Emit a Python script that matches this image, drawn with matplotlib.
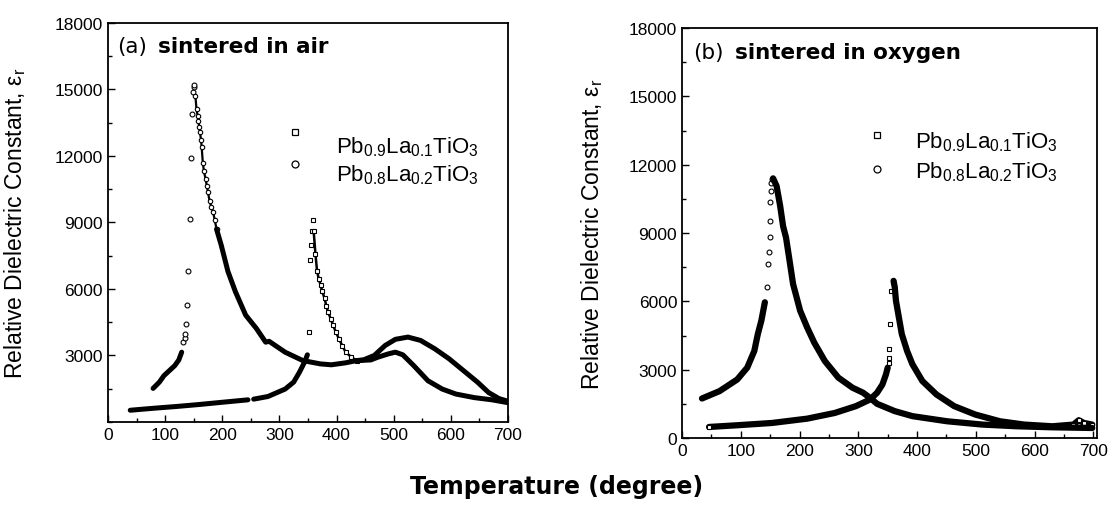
import matplotlib
matplotlib.use("Agg")
import matplotlib.pyplot as plt
from matplotlib.ticker import MultipleLocator

plt.rcParams['font.family'] = ['Liberation Sans', 'DejaVu Sans']
plt.rcParams['mathtext.fontset'] = 'custom'
plt.rcParams['mathtext.rm'] = 'Liberation Sans'

# ---------------- (a) sintered in air ----------------
# Pb0.9La0.1TiO3 (squares)
air_sq_low_T = [39, 80, 120, 160, 200, 245]
air_sq_low_e = [530, 620, 700, 790, 890, 1000]
air_sq_rise_T = [255, 280, 310, 325, 335, 344, 349]
air_sq_rise_e = [1030, 1150, 1485, 1800, 2240, 2700, 3030]
air_sq_peak_T = [351, 353, 355, 357, 358]
air_sq_peak_e = [4060, 7300, 8000, 8600, 9100]
air_sq_fall_T = [360, 363, 366, 369, 372, 375, 379, 382, 385, 390, 394, 399, 404, 410,
                 416, 425, 435, 447, 466, 485, 503, 525,
                 547, 572, 597, 622, 647, 666, 684, 698]
air_sq_fall_e = [8600, 7600, 6790, 6450, 6180, 5900, 5575, 5250, 4970, 4650, 4360, 4050,
                 3760, 3450, 3150, 2950, 2770, 2800, 3000, 3450,
                 3730, 3830, 3680, 3300, 2850, 2320, 1790, 1330, 1060, 950]

# Pb0.8La0.2TiO3 (circles)
air_ci_rise_T = [79, 90, 98, 108, 117, 124, 129]
air_ci_rise_e = [1515, 1800, 2090, 2330, 2545, 2800, 3150]
air_ci_peak_T = [132, 134, 135, 137, 138.5, 140, 143.5, 145, 147, 149, 150.5, 151]
air_ci_peak_e = [3600, 3800, 3985, 4440, 5300, 6830, 9150, 11900, 13900, 14900, 15100, 15200]
air_ci_fall1_T = [153, 155, 157, 158, 160, 161, 163, 164, 166, 168, 171, 173, 175, 178,
                  181, 184, 187, 190]
air_ci_fall1_e = [14700, 14100, 13800, 13600, 13300, 13080, 12700, 12400, 11700, 11300,
                  10950, 10650, 10370, 9950, 9700, 9470, 9100, 8700]
air_ci_fall2_T = [190, 198, 210, 223, 241, 260, 276, 282, 310, 341, 372, 391, 416, 435,
                  460, 472, 491, 503, 516, 535, 560, 585, 609, 641, 672, 698]
air_ci_fall2_e = [8700, 8000, 6790, 5880, 4820, 4210, 3600, 3640, 3150, 2770, 2620, 2580,
                  2670, 2770, 2800, 2920, 3075, 3150, 3030, 2545, 1860, 1485, 1260, 1100,
                  1000, 880]

# ---------------- (b) sintered in oxygen ----------------
oxy_sq_rise_T = [46, 94, 153, 213, 260, 296, 320, 332, 341, 347, 350]
oxy_sq_rise_e = [485, 560, 660, 850, 1100, 1400, 1690, 1990, 2350, 2790, 3090]
oxy_sq_peak_T = [352, 353, 353, 354, 356, 359]
oxy_sq_peak_e = [3300, 3530, 3900, 5000, 6470, 6840]
oxy_sq_fall_T = [360, 362, 364, 368, 374, 383, 392, 409, 433, 463, 499, 541, 582, 630,
                 666, 675, 684, 698]
oxy_sq_fall_e = [6900, 6620, 6030, 5440, 4560, 3820, 3240, 2500, 1910, 1400, 1030, 735,
                 590, 515, 590, 780, 660, 590]

oxy_ci_rise_T = [34, 64, 94, 111, 123, 129, 135, 141]
oxy_ci_rise_e = [1735, 2060, 2570, 3090, 3820, 4560, 5150, 5960]
oxy_ci_peak_T = [144, 146, 148, 150, 150, 150, 151, 152, 153]
oxy_ci_peak_e = [6620, 7650, 8160, 8820, 9530, 10360, 10850, 11200, 11370]
oxy_ci_fall_T = [155, 161, 167, 172, 177, 183, 189, 201, 213, 225, 243, 266, 290, 308,
                 320, 332, 362, 392, 451, 511, 570, 630, 698]
oxy_ci_fall_e = [11400, 11060, 10190, 9300, 8800, 7790, 6760, 5590, 4850, 4190, 3380,
                 2650, 2210, 1990, 1760, 1500, 1180, 960, 735, 590, 515, 470, 440]

labels = [r'$\mathregular{Pb_{0.9}La_{0.1}TiO_3}$', r'$\mathregular{Pb_{0.8}La_{0.2}TiO_3}$']

fig = plt.figure(figsize=(11.14, 5.10), dpi=100)
ax1 = fig.add_axes([0.0969, 0.1706, 0.3591, 0.7824])
ax2 = fig.add_axes([0.6122, 0.1392, 0.3725, 0.8039])


def dense(ax, T, e, lw):
    ax.plot(T, e, color='k', lw=lw, solid_capstyle='round', solid_joinstyle='round')


def sparse(ax, T, e, m, ms=3.5):
    ax.plot(T, e, ls='none', marker=m, mfc='white', mec='k', ms=ms, mew=0.8)


# panel (a)
dense(ax1, air_sq_low_T, air_sq_low_e, 3.6)
dense(ax1, air_sq_rise_T, air_sq_rise_e, 3.6)
sparse(ax1, air_sq_peak_T, air_sq_peak_e, 's')
dense(ax1, air_sq_fall_T[:17], air_sq_fall_e[:17], 1.8)
sparse(ax1, air_sq_fall_T[:17], air_sq_fall_e[:17], 's', 3.2)
dense(ax1, air_sq_fall_T[16:], air_sq_fall_e[16:], 3.6)
dense(ax1, air_ci_rise_T, air_ci_rise_e, 3.6)
sparse(ax1, air_ci_peak_T, air_ci_peak_e, 'o')
dense(ax1, air_ci_fall1_T, air_ci_fall1_e, 1.6)
sparse(ax1, air_ci_fall1_T, air_ci_fall1_e, 'o', 3.2)
dense(ax1, air_ci_fall2_T, air_ci_fall2_e, 3.6)

# panel (b)
dense(ax2, oxy_sq_rise_T, oxy_sq_rise_e, 4.5)
sparse(ax2, oxy_sq_rise_T[:1], oxy_sq_rise_e[:1], 's')
sparse(ax2, oxy_sq_peak_T, oxy_sq_peak_e, 's')
dense(ax2, oxy_sq_fall_T, oxy_sq_fall_e, 4.5)
sparse(ax2, oxy_sq_fall_T[-4:], oxy_sq_fall_e[-4:], 's')
dense(ax2, oxy_ci_rise_T, oxy_ci_rise_e, 4.5)
sparse(ax2, oxy_ci_peak_T, oxy_ci_peak_e, 'o')
dense(ax2, oxy_ci_fall_T, oxy_ci_fall_e, 4.5)

for ax, xmax, ymin_label in [(ax1, 700, 3000), (ax2, 706, 0)]:
    ax.set_xlim(0, xmax)
    ax.set_ylim(0, 18000)
    ax.xaxis.set_major_locator(MultipleLocator(100))
    ax.xaxis.set_minor_locator(MultipleLocator(50))
    ax.set_yticks(range(ymin_label, 18001, 3000))
    ax.yaxis.set_minor_locator(MultipleLocator(1500))
    ax.tick_params(which='both', direction='in', labelsize=12.5, width=1)
    ax.tick_params(which='major', length=5)
    ax.tick_params(which='minor', length=3)
    for s in ax.spines.values():
        s.set_linewidth(1.3)
    ax.set_ylabel(r'Relative Dielectric Constant, $\mathregular{\varepsilon_r}$', fontsize=16.5)

ax1.yaxis.set_label_coords(-0.2, 0.5)
ax2.yaxis.set_label_coords(-0.186, 0.5)

# panel titles
ax1.text(16, 16960, '(a)', fontsize=15.5, family='DejaVu Sans', va='center')
ax1.text(87, 16960, 'sintered in air', fontsize=15.5, family='DejaVu Sans',
         weight='bold', va='center')
ax2.text(19, 16945, '(b)', fontsize=15.5, family='DejaVu Sans', va='center')
ax2.text(90, 16945, 'sintered in oxygen', fontsize=15.5, family='DejaVu Sans',
         weight='bold', va='center')

# legends
for ax, mx, tx, ys, yt in [(ax1, 327, 399, [13080, 11640], [12450, 11200]),
                           (ax2, 331, 396, [13300, 11800], [13050, 11700])]:
    ax.plot([mx], [ys[0]], ls='none', marker='s', mfc='white', mec='k', ms=5, mew=0.9)
    ax.plot([mx], [ys[1]], ls='none', marker='o', mfc='white', mec='k', ms=5, mew=0.9)
    for lab, y in zip(labels, yt):
        ax.text(tx, y, lab, fontsize=16, va='center')

fig.text(0.5, 0.045, 'Temperature (degree)', fontsize=17, family='DejaVu Sans',
         weight='bold', ha='center', va='center')

fig.savefig('out.png', dpi=100)
